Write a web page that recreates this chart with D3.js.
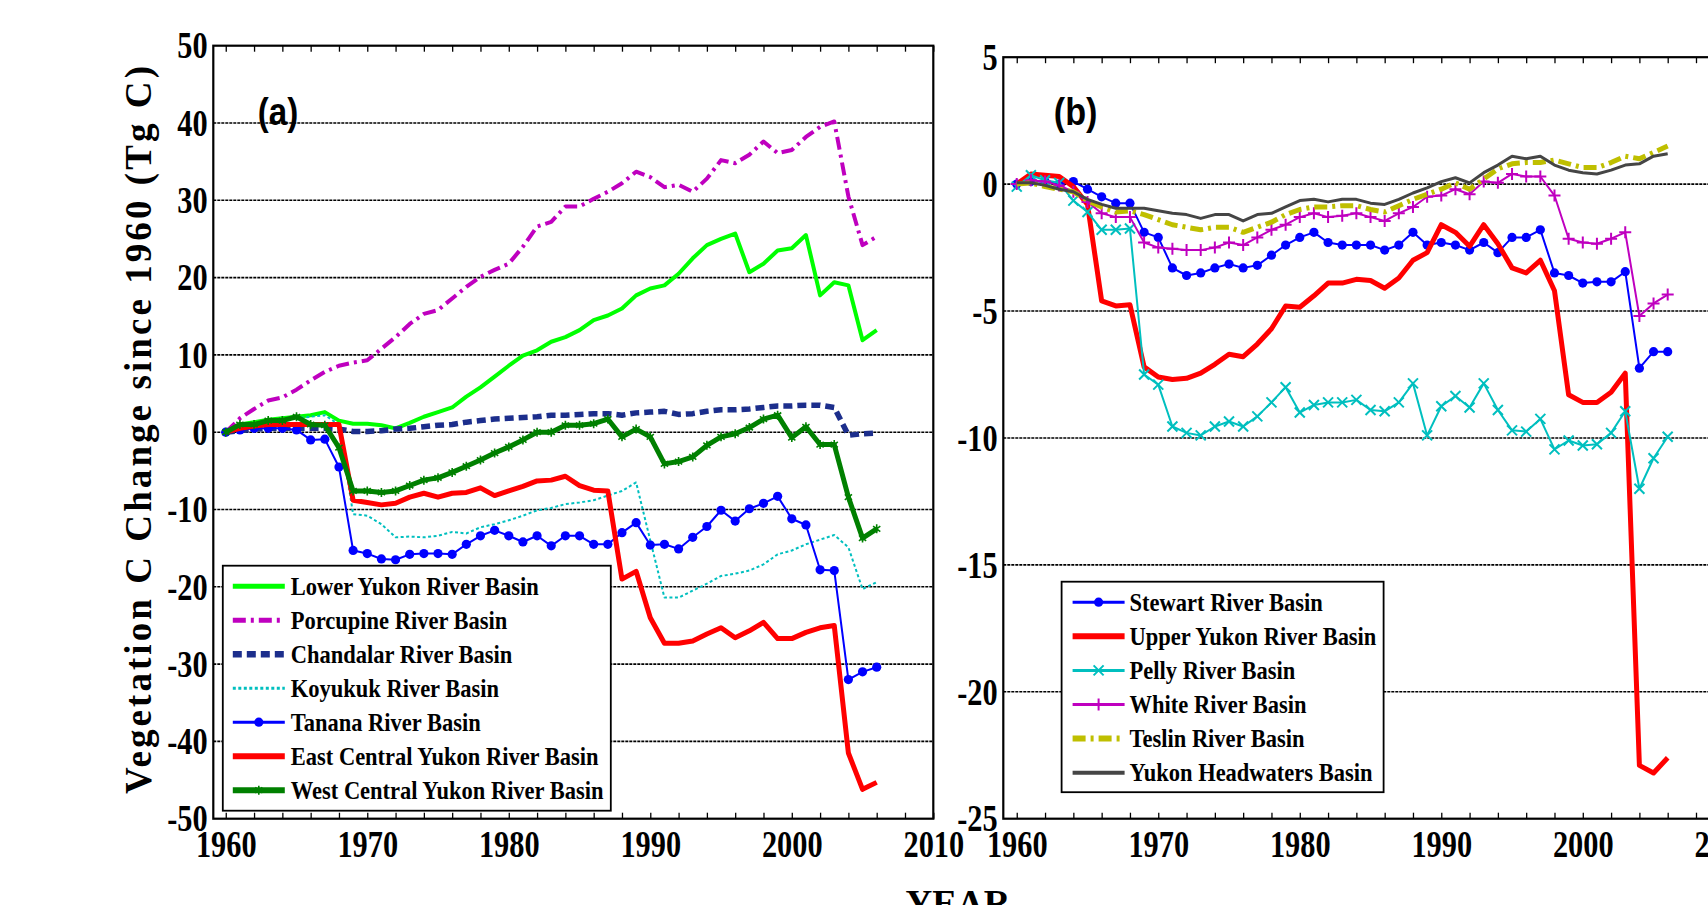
<!DOCTYPE html>
<html>
<head>
<meta charset="utf-8">
<script src="https://cdn.jsdelivr.net/npm/d3@7"></script>
<style>
  body { margin: 0; background: #fff; overflow: hidden; }
  svg { display: block; }
  text { font-family: "Liberation Serif", "Times New Roman", serif; font-weight: bold; fill: #000; }
</style>
</head>
<body>
<div id="chart"></div>
<script>
// ****************************** data ******************************
var years = [1960,1961,1962,1963,1964,1965,1966,1967,1968,1969,
             1970,1971,1972,1973,1974,1975,1976,1977,1978,1979,
             1980,1981,1982,1983,1984,1985,1986,1987,1988,1989,
             1990,1991,1992,1993,1994,1995,1996,1997,1998,1999,
             2000,2001,2002,2003,2004,2005,2006];

// panel (a)
var namesA = ["Lower Yukon River Basin", "Porcupine River Basin", "Chandalar River Basin",
              "Koyukuk River Basin", "Tanana River Basin", "East Central Yukon River Basin",
              "West Central Yukon River Basin"];
var lowerYukon = [0,1.0,1.3,1.6,1.8,2.0,2.2,2.6,1.5,1.1,
                  1.1,0.9,0.5,1.2,2.0,2.6,3.2,4.6,5.8,7.2,
                  8.6,9.9,10.6,11.7,12.3,13.2,14.5,15.1,16.0,17.7,
                  18.6,19.0,20.5,22.5,24.2,25.0,25.7,20.7,21.8,23.5,
                  23.8,25.5,17.7,19.4,19.0,11.9,13.2];
var porcupine = [0,1.8,3.0,4.1,4.5,5.5,6.7,7.8,8.6,9.0,
                 9.3,10.8,12.3,14.0,15.3,15.8,17.3,18.8,20.1,21.0,
                 21.8,24.0,26.6,27.2,29.2,29.2,30.2,31.1,32.2,33.7,
                 33.0,31.7,32.0,31.1,32.8,35.2,34.8,35.9,37.6,36.1,
                 36.5,38.2,39.5,40.2,30.5,24.2,25.3];
var chandalar = [0,0.2,0.4,0.5,0.5,0.5,0.5,0.5,0.4,0.1,
                 0.1,0.2,0.4,0.5,0.7,0.9,1.0,1.3,1.5,1.7,
                 1.8,1.9,2.0,2.2,2.2,2.3,2.4,2.4,2.2,2.5,
                 2.6,2.7,2.3,2.4,2.7,2.9,2.9,3.0,3.2,3.4,
                 3.4,3.5,3.5,3.2,-0.4,-0.2,-0.1];
var koyukuk = [0,0.8,1.2,1.5,1.6,1.8,2.0,2.2,1.0,-10.6,
               -10.8,-11.9,-13.6,-13.5,-13.6,-13.4,-12.9,-13.1,-12.3,-11.9,
               -11.4,-10.8,-10.1,-9.8,-9.3,-9.1,-8.8,-8.2,-7.6,-6.5,
               -14.0,-21.4,-21.4,-20.5,-19.6,-18.6,-18.3,-17.9,-17.1,-15.8,
               -15.3,-14.5,-13.9,-13.3,-14.9,-20.3,-19.4];
var tanana = [0,0.3,0.5,0.5,0.5,0.3,-1.0,-0.9,-4.5,-15.3,
              -15.7,-16.4,-16.5,-15.8,-15.7,-15.7,-15.8,-14.5,-13.4,-12.7,
              -13.4,-14.2,-13.4,-14.7,-13.4,-13.4,-14.5,-14.5,-13.0,-11.7,
              -14.6,-14.5,-15.1,-13.6,-12.2,-10.1,-11.5,-9.9,-9.2,-8.3,
              -11.2,-12.0,-17.8,-17.9,-32.0,-31.0,-30.4];
var eastCentral = [0,0.5,0.8,1.0,1.0,1.0,1.0,1.0,1.0,-8.8,
                   -9.1,-9.4,-9.2,-8.4,-7.9,-8.4,-7.9,-7.8,-7.2,-8.2,
                   -7.6,-7.0,-6.3,-6.2,-5.7,-6.9,-7.5,-7.6,-19.0,-18.0,
                   -24.0,-27.3,-27.3,-27.0,-26.1,-25.3,-26.6,-25.7,-24.6,-26.7,
                   -26.7,-25.9,-25.3,-25.0,-41.5,-46.2,-45.3];
var westCentral = [0,1.0,1.0,1.5,1.5,2.0,1.0,0.9,-2.0,-7.6,
                   -7.6,-7.8,-7.6,-6.9,-6.2,-5.9,-5.2,-4.4,-3.6,-2.7,
                   -1.9,-1.0,0,0,0.9,0.9,1.1,1.7,-0.6,0.4,
                   -0.6,-4.1,-3.8,-3.2,-1.7,-0.6,-0.2,0.6,1.7,2.2,
                   -0.7,0.7,-1.6,-1.6,-8.4,-13.7,-12.5];

// panel (b)
var namesB = ["Stewart River Basin", "Upper Yukon River Basin", "Pelly River Basin",
              "White River Basin", "Teslin River Basin", "Yukon Headwaters Basin"];
var stewart = [0,0.1,0.1,0,0.1,-0.2,-0.5,-0.75,-0.75,-1.9,
               -2.1,-3.3,-3.6,-3.5,-3.3,-3.15,-3.3,-3.2,-2.8,-2.4,
               -2.1,-1.9,-2.3,-2.4,-2.4,-2.4,-2.6,-2.4,-1.9,-2.4,
               -2.3,-2.4,-2.6,-2.3,-2.7,-2.1,-2.1,-1.8,-3.5,-3.6,
               -3.9,-3.85,-3.85,-3.45,-7.25,-6.6,-6.6];
var upperYukon = [0,0.4,0.35,0.3,-0.1,-0.8,-4.6,-4.8,-4.75,-7.2,
                  -7.6,-7.7,-7.65,-7.45,-7.1,-6.7,-6.8,-6.3,-5.7,-4.8,
                  -4.85,-4.4,-3.9,-3.9,-3.75,-3.8,-4.1,-3.7,-3.0,-2.7,
                  -1.6,-1.9,-2.45,-1.6,-2.35,-3.3,-3.5,-3.0,-4.2,-8.3,
                  -8.6,-8.6,-8.2,-7.45,-22.9,-23.2,-22.6];
var pelly = [-0.1,0.35,0.15,0.05,-0.65,-1.1,-1.8,-1.8,-1.75,-7.5,
             -7.9,-9.55,-9.8,-9.9,-9.55,-9.35,-9.55,-9.15,-8.6,-8.0,
             -9.0,-8.7,-8.6,-8.6,-8.5,-8.9,-8.95,-8.6,-7.85,-9.9,
             -8.75,-8.35,-8.8,-7.85,-8.9,-9.7,-9.75,-9.25,-10.45,-10.1,
             -10.3,-10.25,-9.8,-8.95,-12.0,-10.8,-9.95];
var white = [0,0.15,0.1,-0.05,-0.3,-0.7,-1.15,-1.3,-1.3,-2.3,
             -2.5,-2.55,-2.6,-2.6,-2.5,-2.3,-2.4,-2.1,-1.8,-1.6,
             -1.3,-1.15,-1.3,-1.25,-1.15,-1.3,-1.45,-1.15,-0.9,-0.5,
             -0.45,-0.2,-0.4,0.1,0.05,0.4,0.3,0.3,-0.45,-2.15,
             -2.3,-2.35,-2.15,-1.9,-5.2,-4.7,-4.35];
var teslin = [0,0.05,-0.1,-0.2,-0.3,-0.65,-0.9,-1.1,-1.05,-1.2,
              -1.4,-1.6,-1.7,-1.8,-1.7,-1.7,-1.9,-1.7,-1.5,-1.2,
              -1.0,-0.9,-0.9,-0.85,-0.85,-1.0,-1.1,-0.85,-0.6,-0.4,
              -0.2,0.05,-0.2,0.2,0.6,0.8,0.85,0.85,0.95,0.8,
              0.65,0.65,0.85,1.1,1.0,1.25,1.5];
var headwaters = [0.05,0.05,-0.05,-0.2,-0.3,-0.6,-0.8,-0.95,-0.95,-0.95,
                  -1.05,-1.15,-1.2,-1.35,-1.2,-1.2,-1.45,-1.2,-1.15,-0.9,
                  -0.65,-0.6,-0.7,-0.6,-0.6,-0.75,-0.8,-0.6,-0.35,-0.15,
                  0.1,0.25,0.05,0.45,0.75,1.1,1.0,1.1,0.75,0.55,
                  0.45,0.4,0.55,0.75,0.8,1.1,1.2];

// axis ticks
var yearTicks = [1960,1970,1980,1990,2000,2010];
var yTicksA = [50,40,30,20,10,0,-10,-20,-30,-40,-50];
var yTicksB = [5,0,-5,-10,-15,-20,-25];

// ****************************** drawing ******************************
var W = 1708, H = 905;
var svg = d3.select("#chart").append("svg").attr("width", W).attr("height", H);

//plain hyphen minus like the original figure (d3 would give a long U+2212)
var plainNum = function(d) { return String(d); };

//squeezed (condensed) text helper, the original figure uses a narrow bold serif
function squeezeText(g, x, y, str, size, sx, anchor) {
  return g.append("text")
      .attr("transform", "translate(" + x + "," + y + ") scale(" + sx + ",1)")
      .attr("text-anchor", anchor || "start")
      .style("font-size", size + "px")
      .text(str);
}

function drawMarker(g, type, cx, cy, color) {
  if (type == "circle") {
    g.append("circle").attr("cx", cx).attr("cy", cy).attr("r", 4.6).attr("fill", color);
  } else if (type == "x") {
    var s = 5;
    g.append("path").attr("d", "M" + (cx-s) + "," + (cy-s) + "L" + (cx+s) + "," + (cy+s) + "M" + (cx-s) + "," + (cy+s) + "L" + (cx+s) + "," + (cy-s))
      .attr("stroke", color).attr("stroke-width", 2).attr("fill", "none");
  } else if (type == "plus") {
    var p = 6;
    g.append("path").attr("d", "M" + (cx-p) + "," + cy + "L" + (cx+p) + "," + cy + "M" + cx + "," + (cy-p) + "L" + cx + "," + (cy+p))
      .attr("stroke", color).attr("stroke-width", 2).attr("fill", "none");
  } else if (type == "star") {
    var t = 4.5;
    g.append("path").attr("d", "M" + cx + "," + (cy-t) + "L" + cx + "," + (cy+t) +
        "M" + (cx-t*0.8) + "," + (cy-t*0.6) + "L" + (cx+t*0.8) + "," + (cy+t*0.6) +
        "M" + (cx-t*0.8) + "," + (cy+t*0.6) + "L" + (cx+t*0.8) + "," + (cy-t*0.6))
      .attr("stroke", color).attr("stroke-width", 1.6).attr("fill", "none");
  }
}

function drawPanel(opt) {
  var g = svg.append("g").attr("transform", "translate(" + opt.left + "," + opt.top + ")");

  const x = d3.scaleLinear().domain(opt.xDomain).range([0, opt.width]);
  const y = d3.scaleLinear().domain(opt.yDomain).range([opt.height, 0]);

  //dotted horizontal grid lines
  g.selectAll(".grid")
      .data(opt.yTicks.filter(d => d > opt.yDomain[0] && d < opt.yDomain[1]))
      .enter().append("line")
      .attr("x1", 0).attr("x2", opt.width)
      .attr("y1", d => y(d)).attr("y2", d => y(d))
      .attr("stroke", "#000").attr("stroke-width", 1.6).attr("stroke-dasharray", "3,1");

  //minor ticks every 2 years, inward, top and bottom
  var minor = d3.range(1960, 2011, 2);
  var bottomTicks = g.append("g").attr("transform", "translate(0," + opt.height + ")")
      .call(d3.axisBottom(x).tickValues(minor).tickSize(-6).tickFormat(""));
  var topTicks = g.append("g")
      .call(d3.axisTop(x).tickValues(minor).tickSize(-6).tickFormat(""));
  [bottomTicks, topTicks].forEach(function(a) {
    a.select(".domain").remove();
    a.selectAll("line").attr("stroke", "#000").attr("stroke-width", 1.3);
  });

  //year labels
  var xLab = g.append("g").attr("transform", "translate(0," + opt.height + ")")
      .call(d3.axisBottom(x).tickValues(yearTicks).tickSize(0).tickPadding(12).tickFormat(plainNum));
  xLab.select(".domain").remove();
  xLab.attr("font-family", null).attr("font-size", null);
  xLab.selectAll("text").style("font-size", "37px").attr("fill", "#000")
      .attr("transform", "scale(0.82,1)");

  //y labels
  var yLab = g.append("g")
      .call(d3.axisLeft(y).tickValues(opt.yTicks).tickSize(0).tickPadding(7).tickFormat(plainNum));
  yLab.select(".domain").remove();
  yLab.attr("font-family", null).attr("font-size", null);
  yLab.selectAll("text").style("font-size", "37px").attr("fill", "#000")
      .attr("dy", "0.33em").attr("transform", "scale(0.82,1)");

  //series
  opt.series.forEach(function(s) {
    var line = d3.line()
        .x((d, i) => x(years[i]))
        .y(d => y(d));
    g.append("path")
        .datum(s.values)
        .attr("fill", "none")
        .attr("stroke", s.color)
        .attr("stroke-width", s.width)
        .attr("stroke-dasharray", s.dash || null)
        .attr("stroke-linejoin", "round")
        .attr("d", line);
    if (s.marker) {
      var mg = g.append("g");
      s.values.forEach(function(v, i) { drawMarker(mg, s.marker, x(years[i]), y(v), s.color); });
    }
  });

  //axes box
  g.append("rect")
      .attr("x", 0).attr("y", 0).attr("width", opt.width).attr("height", opt.height)
      .attr("fill", "none").attr("stroke", "#000").attr("stroke-width", 2.2);

  //panel label
  g.append("text")
      .attr("transform", "translate(" + opt.tagX + "," + opt.tagY + ") scale(" + opt.tagSx + ",1)")
      .style("font-family", "'Liberation Sans', Arial, sans-serif")
      .style("font-size", "38px")
      .text(opt.tag);

  //legend
  var lg = g.append("g").attr("transform", "translate(" + opt.legend.x + "," + opt.legend.y + ")");
  lg.append("rect")
      .attr("width", opt.legend.w).attr("height", opt.legend.h)
      .attr("fill", "#fff").attr("stroke", "#000").attr("stroke-width", 1.8);
  opt.series.forEach(function(s, i) {
    var cy = opt.legend.first + i * opt.legend.step;
    lg.append("line")
        .attr("x1", opt.legend.lx1).attr("x2", opt.legend.lx2)
        .attr("y1", cy).attr("y2", cy)
        .attr("stroke", s.color)
        .attr("stroke-width", s.width + 1)
        .attr("stroke-dasharray", s.dash || null);
    if (s.marker) drawMarker(lg, s.marker, (opt.legend.lx1 + opt.legend.lx2) / 2, cy, s.color);
    squeezeText(lg, opt.legend.tx, cy + 8.5, s.name, 25, 0.9);
  });
}

drawPanel({
  left: 213.3, top: 45.7, width: 720, height: 773,
  xDomain: [1959.12, 2010], yDomain: [-50, 50], yTicks: yTicksA,
  tag: "(a)", tagX: 44.5, tagY: 79, tagSx: 0.87,
  legend: {x: 9.5, y: 520, w: 388, h: 245, first: 20.5, step: 34, lx1: 10, lx2: 62, tx: 68},
  series: [
    {name: namesA[0], values: lowerYukon, color: "#00ff00", width: 4},
    {name: namesA[1], values: porcupine, color: "#bf00bf", width: 4, dash: "13,5,3,5"},
    {name: namesA[2], values: chandalar, color: "#1c2e8c", width: 5.5, dash: "9,5"},
    {name: namesA[3], values: koyukuk, color: "#00bfbf", width: 2, dash: "3,2.5"},
    {name: namesA[4], values: tanana, color: "#0000ff", width: 2, marker: "circle"},
    {name: namesA[5], values: eastCentral, color: "#ff0000", width: 5},
    {name: namesA[6], values: westCentral, color: "#008000", width: 5, marker: "star"}
  ]
});

drawPanel({
  left: 1003.3, top: 57.2, width: 721, height: 761.5,
  xDomain: [1959.05, 2010], yDomain: [-25, 5], yTicks: yTicksB,
  tag: "(b)", tagX: 50.5, tagY: 68, tagSx: 0.9,
  legend: {x: 58.3, y: 524.5, w: 322, h: 210.5, first: 20.5, step: 34.1, lx1: 11, lx2: 63, tx: 68},
  series: [
    {name: namesB[0], values: stewart, color: "#0000ff", width: 2, marker: "circle"},
    {name: namesB[1], values: upperYukon, color: "#ff0000", width: 5},
    {name: namesB[2], values: pelly, color: "#00bfbf", width: 2, marker: "x"},
    {name: namesB[3], values: white, color: "#bf00bf", width: 2, marker: "plus"},
    {name: namesB[4], values: teslin, color: "#bfbf00", width: 5, dash: "13,5,3,5"},
    {name: namesB[5], values: headwaters, color: "#454545", width: 3}
  ]
});

//axis titles
svg.append("text")
    .attr("transform", "translate(151,430) rotate(-90)")
    .attr("text-anchor", "middle")
    .attr("textLength", 728).attr("lengthAdjust", "spacing")
    .style("font-size", "37px")
    .text("Vegetation C  Change since 1960 (Tg C)");

svg.append("text")
    .attr("x", 958).attr("y", 916)
    .attr("text-anchor", "middle")
    .style("font-size", "37px")
    .text("YEAR");
</script>
</body>
</html>
